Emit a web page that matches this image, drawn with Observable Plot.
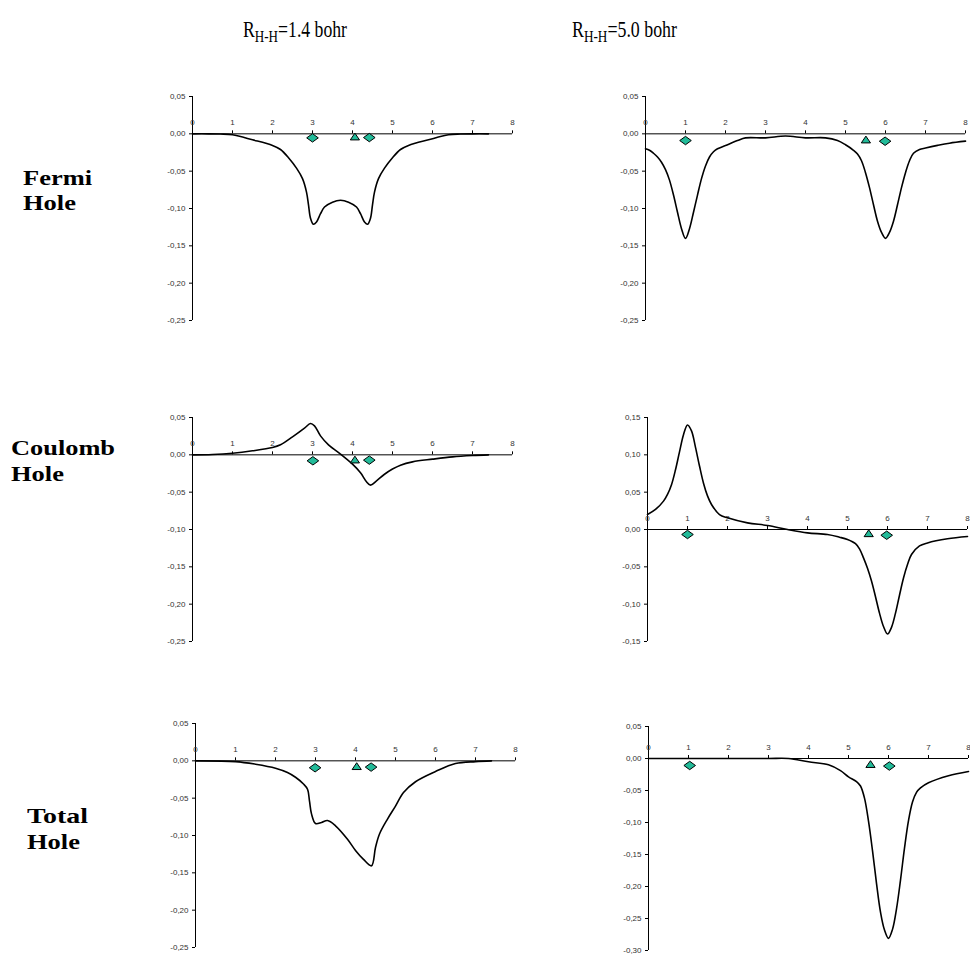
<!DOCTYPE html>
<html><head><meta charset="utf-8">
<script src="https://cdn.jsdelivr.net/npm/d3@7"></script>
<script src="https://cdn.jsdelivr.net/npm/@observablehq/plot@0.6"></script>
<style>
html,body{margin:0;padding:0;background:#fff;}
#page{position:relative;width:970px;height:954px;overflow:hidden;background:#fff;}
.lbl{position:absolute;white-space:nowrap;font-family:"Liberation Serif","Times New Roman",serif;line-height:1;transform-origin:0 0;color:#000;}
.sub{font-size:0.74em;position:relative;top:0.3em;}
.panel{position:absolute;}
</style></head><body><div id="page"></div>
<script>
// ---------- data ----------
const headers = ["R<span class=\"sub\">H-H</span>=1.4 bohr", "R<span class=\"sub\">H-H</span>=5.0 bohr"];
const rowLabels = [["Fermi", "Hole"], ["Coulomb", "Hole"], ["Total", "Hole"]];

const xTicks = [0, 1, 2, 3, 4, 5, 6, 7, 8];
const yTicksA = [0.05, 0, -0.05, -0.10, -0.15, -0.20, -0.25];
const yTicksB = [0.15, 0.10, 0.05, 0, -0.05, -0.10, -0.15];
const yTicksC = [0.05, 0, -0.05, -0.10, -0.15, -0.20, -0.25, -0.30];

// Fermi hole, R = 1.4 bohr
const fermi14X = [0, 0.4, 0.7, 1.0, 1.5, 2.0, 2.2, 2.4, 2.6, 2.75, 2.85, 2.9, 2.95, 3.02, 3.1, 3.2, 3.3, 3.5, 3.7, 3.9, 4.1, 4.2, 4.3, 4.38, 4.45, 4.5, 4.55, 4.65, 4.8, 5.0, 5.2, 5.4, 5.9, 6.4, 6.7, 7.0, 7.4];
const fermi14Y = [0, 0, -0.0003, -0.0013, -0.008, -0.0156, -0.021, -0.032, -0.046, -0.060, -0.078, -0.095, -0.113, -0.121, -0.118, -0.107, -0.098, -0.0915, -0.089, -0.0915, -0.098, -0.107, -0.118, -0.121, -0.113, -0.095, -0.078, -0.060, -0.046, -0.032, -0.021, -0.0156, -0.008, -0.0013, -0.0003, 0, 0];
// Fermi hole, R = 5.0 bohr
const fermi50X = [0, 0.1, 0.2, 0.3, 0.4, 0.5, 0.6, 0.7, 0.8, 0.9, 1.0, 1.1, 1.2, 1.3, 1.4, 1.5, 1.6, 1.7, 1.8, 2.0, 2.3, 2.5, 3.0, 3.5, 4.0, 4.5, 4.8, 5.0, 5.2, 5.3, 5.4, 5.5, 5.6, 5.7, 5.8, 5.9, 6.0, 6.1, 6.2, 6.3, 6.4, 6.5, 6.6, 6.7, 6.85, 7.0, 7.3, 7.6, 8.0];
const fermi50Y = [-0.020, -0.022, -0.026, -0.031, -0.038, -0.048, -0.062, -0.082, -0.105, -0.127, -0.140, -0.127, -0.105, -0.082, -0.060, -0.043, -0.031, -0.024, -0.020, -0.0156, -0.009, -0.0054, -0.0054, -0.003, -0.0054, -0.0054, -0.009, -0.0147, -0.022, -0.027, -0.036, -0.052, -0.072, -0.095, -0.117, -0.132, -0.140, -0.132, -0.117, -0.095, -0.072, -0.052, -0.036, -0.026, -0.021, -0.019, -0.0155, -0.0125, -0.0098];
// Coulomb hole, R = 1.4 bohr
const coul14X = [0, 0.5, 1.0, 1.5, 2.0, 2.2, 2.5, 2.8, 2.95, 3.05, 3.2, 3.4, 3.7, 4.0, 4.2, 4.35, 4.45, 4.6, 4.8, 5.0, 5.2, 5.5, 6.0, 6.5, 7.0, 7.4];
const coul14Y = [0, 0.0005, 0.0022, 0.0054, 0.0098, 0.0134, 0.024, 0.0357, 0.042, 0.0388, 0.0254, 0.0134, 0.001, -0.0125, -0.024, -0.036, -0.0406, -0.0348, -0.026, -0.019, -0.0138, -0.0094, -0.0058, -0.0027, -0.0009, 0];
// Coulomb hole, R = 5.0 bohr
const coul50X = [0, 0.2, 0.4, 0.5, 0.6, 0.7, 0.8, 0.9, 1.0, 1.1, 1.2, 1.3, 1.4, 1.5, 1.6, 1.8, 2.0, 2.5, 3.0, 3.5, 4.0, 4.5, 4.8, 5.0, 5.2, 5.3, 5.4, 5.5, 5.6, 5.7, 5.8, 5.9, 6.0, 6.1, 6.2, 6.3, 6.4, 6.5, 6.6, 6.8, 7.0, 7.5, 8.0];
const coul50Y = [0.020, 0.0268, 0.038, 0.047, 0.060, 0.080, 0.104, 0.127, 0.140, 0.132, 0.110, 0.085, 0.062, 0.045, 0.0335, 0.020, 0.0156, 0.0089, 0.0054, 0, -0.0045, -0.0067, -0.0103, -0.0134, -0.019, -0.026, -0.038, -0.052, -0.069, -0.090, -0.112, -0.130, -0.140, -0.131, -0.112, -0.088, -0.065, -0.047, -0.0335, -0.022, -0.018, -0.0125, -0.0094];
// Total hole, R = 1.4 bohr
const total14X = [0, 1.0, 1.5, 2.0, 2.3, 2.5, 2.7, 2.8, 2.85, 2.9, 3.0, 3.15, 3.3, 3.5, 3.8, 4.0, 4.2, 4.4, 4.5, 4.6, 4.8, 5.0, 5.2, 5.5, 6.0, 6.5, 7.0, 7.4];
const total14Y = [0, -0.001, -0.0045, -0.0098, -0.0156, -0.022, -0.031, -0.038, -0.054, -0.071, -0.084, -0.0826, -0.080, -0.087, -0.105, -0.12, -0.132, -0.1406, -0.116, -0.098, -0.078, -0.0607, -0.0425, -0.028, -0.0143, -0.0036, -0.001, 0];
// Total hole, R = 5.0 bohr
const total50X = [0, 1, 2, 3, 3.5, 4.0, 4.5, 4.8, 5.0, 5.2, 5.3, 5.4, 5.5, 5.6, 5.7, 5.8, 5.9, 6.0, 6.1, 6.2, 6.3, 6.4, 6.5, 6.6, 6.7, 6.8, 7.0, 7.5, 8.0];
const total50Y = [0, 0, 0, 0, 0, -0.0052, -0.0099, -0.019, -0.0286, -0.036, -0.043, -0.062, -0.098, -0.144, -0.195, -0.240, -0.268, -0.281, -0.267, -0.235, -0.190, -0.140, -0.097, -0.068, -0.053, -0.046, -0.038, -0.027, -0.0203];

// marker positions (nuclei: diamonds, reference electron: triangle)
const dia14FX = [3.0, 4.42],  dia14FY = [-0.0054, -0.005],  tri14FX = [4.06], tri14FY = [-0.0036];
const dia50FX = [1.0, 5.99],  dia50FY = [-0.009, -0.0099],  tri50FX = [5.51], tri50FY = [-0.0076];
const dia14CX = [3.01, 4.42], dia14CY = [-0.008, -0.0071],  tri14CX = [4.06], tri14CY = [-0.0063];
const dia50CX = [1.0, 5.98],  dia50CY = [-0.0067, -0.0077], tri50CX = [5.53], tri50CY = [-0.005];
const dia14TX = [2.99, 4.39], dia14TY = [-0.0093, -0.0084], tri14TX = [4.03], tri14TY = [-0.0071];
const dia50TX = [1.03, 6.02], dia50TY = [-0.0109, -0.0118], tri50TX = [5.55], tri50TY = [-0.0087];

// ---------- drawing ----------
const page = document.getElementById("page");
const teal = "#22bb99";
const diamondSym = {draw(ctx, size) { const r = Math.sqrt(size / Math.PI);
  ctx.moveTo(-1.45 * r, 0); ctx.lineTo(0, -1.05 * r); ctx.lineTo(1.45 * r, 0); ctx.lineTo(0, 1.05 * r); ctx.closePath(); }};
const triangleSym = {draw(ctx, size) { const r = Math.sqrt(size / Math.PI);
  ctx.moveTo(0, -0.85 * r); ctx.lineTo(1.15 * r, 0.85 * r); ctx.lineTo(-1.15 * r, 0.85 * r); ctx.closePath(); }};

const zip = (xs, ys) => xs.map((x, i) => ({x, y: ys[i]}));
const fmt = d => d.toFixed(2).replace(".", ",");

function panel(lineX, lineY, dX, dY, tX, tY, yTicks, x0, yTop) {
  const ml = 40, mr = 12, mt = 10, mb = 10, pw = 320, ph = 224;
  const svg = Plot.plot({
    width: ml + pw + mr, height: mt + ph + mb,
    marginLeft: ml, marginRight: mr, marginTop: mt, marginBottom: mb,
    style: {background: "transparent", color: "#000", fontFamily: "'Liberation Sans', Arial, sans-serif", fontSize: "8px", overflow: "visible"},
    x: {domain: [0, 8], axis: null},
    y: {domain: d3.extent(yTicks)},
    marks: [
      Plot.ruleY([0], {stroke: "#000", strokeWidth: 1}),
      Plot.ruleX([0], {stroke: "#000", strokeWidth: 1}),
      Plot.ruleX(xTicks, {x: d => d, y1: 0, y2: 0, insetTop: -3, stroke: "#000"}),
      Plot.text(xTicks, {x: d => d, y: 0, dy: -11, text: d => String(d), fontSize: 8, fill: "#333"}),
      Plot.axisY(yTicks, {label: null, tickSize: 3, tickPadding: 4, tickFormat: fmt, fontSize: 8, fill: "#333"}),
      Plot.line(zip(lineX, lineY), {x: "x", y: "y", stroke: "#000", strokeWidth: 1.6, curve: "catmull-rom"}),
      Plot.dot(zip(dX, dY), {x: "x", y: "y", symbol: diamondSym, r: 4, fill: teal, stroke: "#000", strokeWidth: 1}),
      Plot.dot(zip(tX, tY), {x: "x", y: "y", symbol: triangleSym, r: 4, fill: teal, stroke: "#000", strokeWidth: 1})
    ]
  });
  svg.classList.add("panel");
  svg.style.left = (x0 - ml) + "px";
  svg.style.top = (yTop - mt) + "px";
  page.appendChild(svg);
}

panel(fermi14X, fermi14Y, dia14FX, dia14FY, tri14FX, tri14FY, yTicksA, 191.7, 96);
panel(fermi50X, fermi50Y, dia50FX, dia50FY, tri50FX, tri50FY, yTicksA, 645, 96);
panel(coul14X, coul14Y, dia14CX, dia14CY, tri14CX, tri14CY, yTicksA, 191.7, 416.7);
panel(coul50X, coul50Y, dia50CX, dia50CY, tri50CX, tri50CY, yTicksB, 647.3, 416.7);
panel(total14X, total14Y, dia14TX, dia14TY, tri14TX, tri14TY, yTicksA, 195, 723.3);
panel(total50X, total50Y, dia50TX, dia50TY, tri50TX, tri50TY, yTicksC, 647.7, 726);

function addLabel(html, x, baseline, fs, bold, targetW) {
  const d = document.createElement("div");
  d.className = "lbl";
  d.innerHTML = html;
  d.style.fontSize = fs + "px";
  d.style.fontWeight = bold ? "bold" : "normal";
  d.style.left = x + "px";
  d.style.top = (baseline - 0.8375 * fs) + "px";
  page.appendChild(d);
  const w = d.getBoundingClientRect().width;
  d.style.transform = `scaleX(${targetW / w})`;
}

addLabel(headers[0], 243, 37, 23, false, 104);
addLabel(headers[1], 572, 37, 23, false, 105);

const rowLayout = [
  {x: 23, b1: 185, b2: 210, w: [69, 53]},
  {x: 11, b1: 455, b2: 481, w: [104, 53]},
  {x: 27, b1: 823, b2: 849, w: [61, 53]}
];
rowLabels.forEach((lines, i) => {
  const L = rowLayout[i];
  addLabel(lines[0], L.x, L.b1, 22, true, L.w[0]);
  addLabel(lines[1], L.x, L.b2, 22, true, L.w[1]);
});
</script></body></html>
